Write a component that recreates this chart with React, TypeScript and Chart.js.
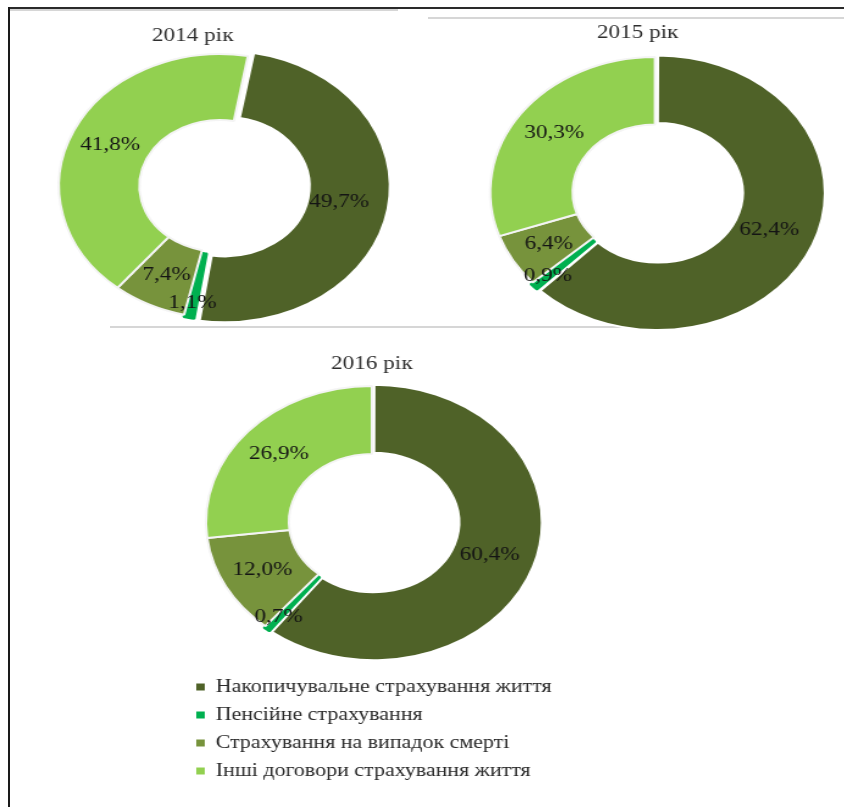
import React, { useEffect, useRef } from 'react';
import { Chart, registerables } from 'chart.js';

Chart.register(...registerables);

const categories = [
  'Накопичувальне страхування життя',
  'Пенсійне страхування',
  'Страхування на випадок смерті',
  'Інші договори страхування життя',
];
const years = ['2014 рік', '2015 рік', '2016 рік'];
const values2014 = [49.7, 1.1, 7.4, 41.8];
const values2015 = [62.4, 0.9, 6.4, 30.3];
const values2016 = [60.4, 0.7, 12.0, 26.9];
const colors = ['#4F6228', '#00B050', '#77933C', '#92D050'];
const borderColors = ['#ffffff', '#00B050', '#f4f4f4', '#f4f4f4'];

const SERIF = '"Liberation Serif", "Times New Roman", serif';
const STRETCH = 1.22;

const fmt = (v: number) => v.toFixed(1).replace('.', ',') + '%';

const labelPlugin = {
  id: 'sliceLabels',
  afterDatasetsDraw(chart: any) {
    const ctx = chart.ctx;
    const meta = chart.getDatasetMeta(0);
    const data = chart.data.datasets[0].data as number[];
    ctx.save();
    ctx.font = `19px ${SERIF}`;
    ctx.fillStyle = '#141414';
    ctx.textAlign = 'center';
    ctx.textBaseline = 'middle';
    meta.data.forEach((arc: any, i: number) => {
      const p = arc.getProps(['x', 'y', 'startAngle', 'endAngle', 'innerRadius', 'outerRadius']);
      const v = data[i];
      const frac = v < 2 ? 0.8 : 0.5;
      const mid = (p.startAngle + p.endAngle) / 2;
      const r = p.innerRadius + (p.outerRadius - p.innerRadius) * frac;
      ctx.fillText(fmt(v), p.x + Math.cos(mid) * r, p.y + Math.sin(mid) * r);
    });
    ctx.restore();
  },
};

type DonutProps = {
  values: number[];
  title: string;
  rotation: number;
  offsets: number[];
  radius: number;
  left: number;
  top: number;
  width: number;
  height: number;
  pad: { left: number; right: number; top: number; bottom: number };
  titleAlign: 'start' | 'center';
  titleTop: number;
  showLegend: boolean;
};

function Donut(props: DonutProps) {
  const ref = useRef<HTMLCanvasElement>(null);
  useEffect(() => {
    if (!ref.current) return;
    const chart = new Chart(ref.current, {
      type: 'doughnut',
      data: {
        labels: categories,
        datasets: [
          {
            data: props.values,
            backgroundColor: colors,
            borderColor: borderColors,
            borderWidth: 2,
            offset: props.offsets,
            hoverOffset: 0,
            clip: false,
          } as any,
        ],
      },
      options: {
        responsive: false,
        animation: false,
        devicePixelRatio: 1,
        radius: props.radius,
        cutout: '50%',
        rotation: props.rotation,
        layout: { padding: props.pad },
        events: [],
        plugins: {
          title: {
            display: true,
            text: props.title,
            align: props.titleAlign,
            color: '#2e2e2e',
            font: { family: SERIF, size: 19, weight: 'normal' },
            padding: { top: props.titleTop, bottom: 0 },
          },
          legend: {
            display: props.showLegend,
            position: 'bottom',
            align: 'start',
            labels: {
              color: '#2a2a2a',
              font: { family: SERIF, size: 18 },
              boxWidth: 7,
              boxHeight: 7,
              padding: 10,
              generateLabels: (c: any) => {
                const base = (Chart as any).overrides.doughnut.plugins.legend.labels.generateLabels(c);
                return base.map((it: any) => ({ ...it, lineWidth: 0, strokeStyle: 'rgba(0,0,0,0)' }));
              },
            },
          },
          tooltip: { enabled: false },
        },
      } as any,
      plugins: [labelPlugin],
    });
    return () => chart.destroy();
  }, []);
  return (
    <div
      style={{
        position: 'absolute',
        left: props.left,
        top: props.top,
        width: props.width,
        height: props.height,
        transform: `scaleX(${STRETCH})`,
        transformOrigin: '0 0',
      }}
    >
      <canvas ref={ref} width={props.width} height={props.height} />
    </div>
  );
}

export default function App() {
  return (
    <div
      style={{
        position: 'fixed',
        left: 0,
        top: 0,
        width: 844,
        height: 807,
        overflow: 'hidden',
        background: '#ffffff',
      }}
    >
      {/* frame and faint separator lines */}
      <div style={{ position: 'absolute', left: 8, top: 7, width: 836, height: 2, background: '#2a2a2a' }} />
      <div style={{ position: 'absolute', left: 8, top: 7, width: 2, height: 800, background: '#1a1a1a' }} />
      <div style={{ position: 'absolute', left: 10, top: 9, width: 388, height: 2, background: '#d6d6d6' }} />
      <div style={{ position: 'absolute', left: 428, top: 17, width: 416, height: 2, background: '#d6d6d6' }} />
      <div style={{ position: 'absolute', left: 110, top: 326, width: 515, height: 2, background: '#d6d6d6' }} />

      <Donut
        values={values2014}
        title={years[0]}
        rotation={10}
        offsets={[15, 5, 0, 0]}
        radius={132}
        left={0}
        top={0}
        width={340}
        height={340}
        pad={{ left: 124.6, right: 104, top: 0, bottom: 15.8 }}
        titleAlign="start"
        titleTop={25}
        showLegend={false}
      />
      <Donut
        values={values2015}
        title={years[1]}
        rotation={0}
        offsets={[9, 5, 0, 0]}
        radius={135}
        left={420}
        top={0}
        width={356}
        height={355}
        pad={{ left: 145, right: 115.8, top: 0, bottom: 15.8 }}
        titleAlign="start"
        titleTop={22}
        showLegend={false}
      />
      <Donut
        values={values2016}
        title={years[2]}
        rotation={0}
        offsets={[7, 4, 0, 0]}
        radius={136}
        left={184}
        top={330}
        width={330}
        height={460}
        pad={{ left: 0, right: 22, top: 0, bottom: 0 }}
        titleAlign="center"
        titleTop={23}
        showLegend={true}
      />
    </div>
  );
}
